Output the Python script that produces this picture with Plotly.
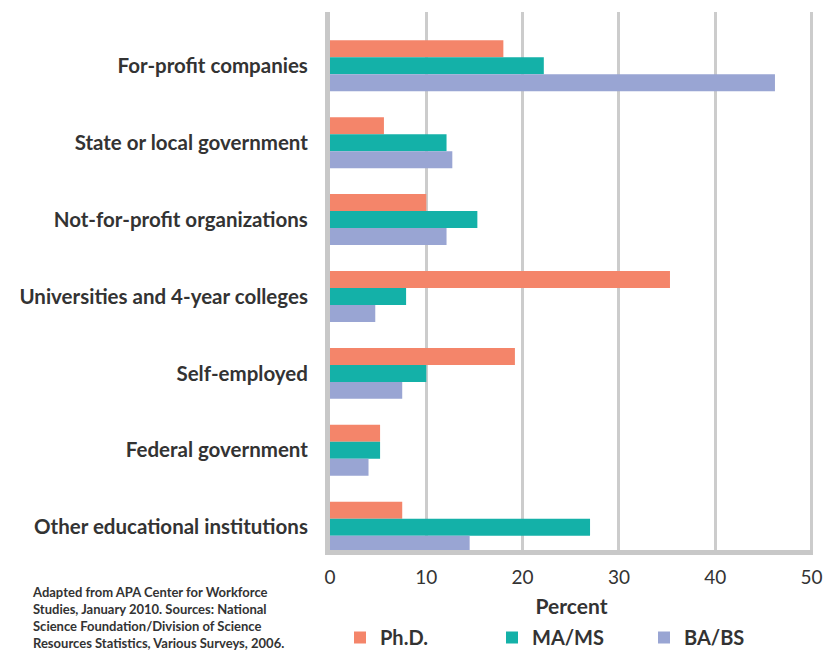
import plotly.graph_objects as go

categories = [
    "For-profit companies",
    "State or local government",
    "Not-for-profit organizations",
    "Universities and 4-year colleges",
    "Self-employed",
    "Federal government",
    "Other educational institutions",
]
phd = [18.0, 5.6, 10.0, 35.3, 19.2, 5.2, 7.5]
ma_ms = [22.2, 12.1, 15.3, 7.9, 10.0, 5.2, 27.0]
ba_bs = [46.2, 12.7, 12.1, 4.7, 7.5, 4.0, 14.5]
x_ticks = [0, 10, 20, 30, 40, 50]

series = [
    ("Ph.D.", phd, "#F4856A"),
    ("MA/MS", ma_ms, "#14B1A8"),
    ("BA/BS", ba_bs, "#99A5D3"),
]

FONT = "Lato, 'Open Sans', sans-serif"
L, R, T, B = 330, 10, 12, 100
PW = 823 - L - R
PH = 650 - T - B

fig = go.Figure()
for name, vals, col in series:
    fig.add_trace(go.Bar(
        y=categories, x=vals, name=name, orientation="h",
        marker=dict(color=col, line=dict(width=0)),
    ))

fig.update_layout(
    width=823, height=650,
    margin=dict(l=L, r=R, t=T, b=B, autoexpand=False),
    paper_bgcolor="white", plot_bgcolor="white",
    barmode="group", bargap=0.337, bargroupgap=0,
    font=dict(family=FONT, color="#333333"),
    legend=dict(
        orientation="h", x=(340 - L) / PW, xanchor="left",
        y=-(618 - T - PH) / PH, yanchor="top",
        font=dict(family=FONT, size=20, weight="bold", color="#333333"),
        entrywidth=107, entrywidthmode="pixels",
        itemclick=False,
    ),
    showlegend=True,
)
fig.update_xaxes(
    range=[0, 50.15], tickvals=x_ticks, automargin=False,
    showgrid=True, gridcolor="#CCCCCC", gridwidth=2.5,
    showline=True, linecolor="#C8C8C8", linewidth=5,
    zeroline=False, ticks="", ticklabelstandoff=6,
    tickfont=dict(family=FONT, size=19, color="#333333"),
    title=dict(text="Percent", standoff=14,
               font=dict(family=FONT, size=21, weight="bold", color="#333333")),
)
fig.update_yaxes(
    categoryorder="array", categoryarray=categories,
    range=[6.297, -0.70], automargin=False,
    showgrid=False,
    showline=True, linecolor="#C8C8C8", linewidth=5,
    ticks="", ticklabelstandoff=13,
    tickfont=dict(family=FONT, size=20.5, weight="bold", color="#333333"),
)
fig.add_annotation(
    xref="paper", yref="paper", x=(30 - L) / PW, y=-(582 - T - PH) / PH,
    xanchor="left", yanchor="top", align="left", showarrow=False,
    text=("Adapted from APA Center for Workforce<br>"
          "Studies, January 2010. Sources: National<br>"
          "Science Foundation/Division of Science<br>"
          "Resources Statistics, Various Surveys, 2006."),
    font=dict(family=FONT, size=13, weight="bold", color="#333333"),
)
fig.write_html("out.html", config={"displayModeBar": False},
               post_script="document.body.style.margin='0';")
